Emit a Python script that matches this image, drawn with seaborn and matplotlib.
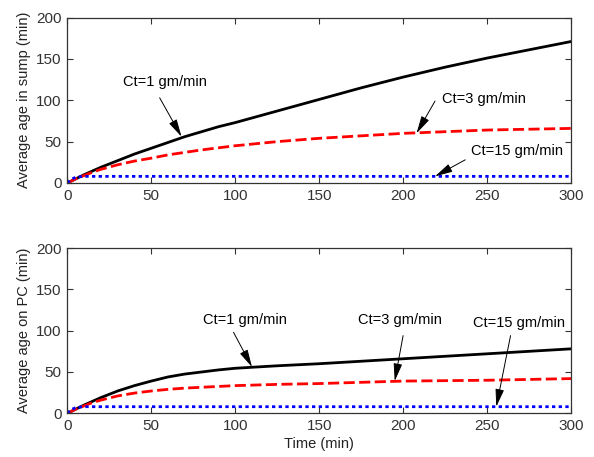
import numpy as np
import pandas as pd
import matplotlib
matplotlib.use("Agg")
import matplotlib.pyplot as plt
import seaborn as sns

# Sampled time points (min)
time = [0, 2, 5, 10, 15, 20, 30, 40, 50, 60, 70, 80, 90, 100,
        125, 150, 175, 200, 225, 250, 275, 300]

# Average age in sump (min)
sump_ct1 = [0, 2, 5, 10, 14.5, 19, 27, 35, 42, 49, 56, 62, 68, 73,
            87, 101, 115, 128, 140, 151, 161, 171]
sump_ct3 = [0, 2, 5, 9, 13, 16.5, 22, 26.5, 30, 34, 37, 40, 42.5, 45,
            50, 54, 57, 60, 62, 64, 65, 66]
sump_ct15 = [0, 4, 7, 8, 8, 8, 8, 8, 8, 8, 8, 8, 8, 8,
             8, 8, 8, 8, 8, 8, 8, 8]

# Average age on PC (min)
pc_ct1 = [0, 2, 5, 10, 14.5, 19, 27, 33.5, 39, 44, 47.5, 50, 52.5, 54.5,
          57.5, 60, 63, 66, 69, 72, 75, 78]
pc_ct3 = [0, 2, 5, 9, 13, 16, 21, 24.5, 27, 29, 30.5, 31.5, 32.5, 33.5,
          35, 36, 37.5, 39, 39.5, 40, 41, 42]
pc_ct15 = [0, 4, 7, 8, 8, 8, 8, 8, 8, 8, 8, 8, 8, 8,
           8, 8, 8, 8, 8, 8, 8, 8]

series_labels = ["Ct=1 gm/min", "Ct=3 gm/min", "Ct=15 gm/min"]
x_ticks = [0, 50, 100, 150, 200, 250, 300]
y_ticks = [0, 50, 100, 150, 200]

sns.set_theme(style="ticks")
plt.rcParams["font.family"] = ["Liberation Sans", "DejaVu Sans"]
plt.rcParams["xtick.direction"] = "in"
plt.rcParams["ytick.direction"] = "in"

fig = plt.figure(figsize=(5.94, 4.57), dpi=100)
ax_top = fig.add_axes([0.1133, 0.5996, 0.848, 0.362])
ax_bot = fig.add_axes([0.1133, 0.0956, 0.848, 0.3617])

line_styles = [
    dict(color="black", linestyle="-", linewidth=2.0),
    dict(color="#ff0000", linestyle=(0, (4, 1.6)), linewidth=2.0),
    dict(color="#0000ff", linestyle=(0, (1.2, 1.2)), linewidth=2.0),
]


def draw_panel(ax, curves, ylabel, notes):
    for values, style in zip(curves, line_styles):
        df = pd.DataFrame({"t": time, "age": values})
        sns.lineplot(data=df, x="t", y="age", ax=ax, **style)
    ax.set_xlim(0, 300)
    ax.set_ylim(0, 200)
    ax.set_xticks(x_ticks)
    ax.set_yticks(y_ticks)
    ax.tick_params(axis="both", labelsize=11, length=4, width=0.8,
                   colors="#333333", top=True, right=True, pad=4)
    for sp in ax.spines.values():
        sp.set_visible(True)
        sp.set_color("#333333")
        sp.set_linewidth(0.9)
    ax.set_ylabel(ylabel, fontsize=10.5, color="#222222", labelpad=4)
    ax.set_xlabel("")
    for label, (tx, ty), (ax_, ay_), (hx, hy) in notes:
        ax.text(tx, ty, label, fontsize=10.5, ha="center", va="center",
                color="black")
        ax.annotate("", xy=(hx, hy), xytext=(ax_, ay_),
                    arrowprops=dict(arrowstyle="-|>,head_length=0.9,head_width=0.22",
                                    color="black", lw=0.7,
                                    shrinkA=0, shrinkB=0))


draw_panel(
    ax_top, [sump_ct1, sump_ct3, sump_ct15], "Average age in sump (min)",
    [
        (series_labels[0], (58, 122), (55, 103), (68, 56)),
        (series_labels[1], (248, 102), (219, 99), (208, 60)),
        (series_labels[2], (268, 39), (237, 28), (219, 8)),
    ],
)
draw_panel(
    ax_bot, [pc_ct1, pc_ct3, pc_ct15], "Average age on PC (min)",
    [
        (series_labels[0], (106, 113), (99, 98), (110, 56)),
        (series_labels[1], (198, 113), (200, 94), (195, 39)),
        (series_labels[2], (269, 109), (264, 94), (255.5, 8)),
    ],
)
ax_bot.set_xlabel("Time (min)", fontsize=10.5, color="#222222", labelpad=3)

fig.savefig("out.png", dpi=100)
